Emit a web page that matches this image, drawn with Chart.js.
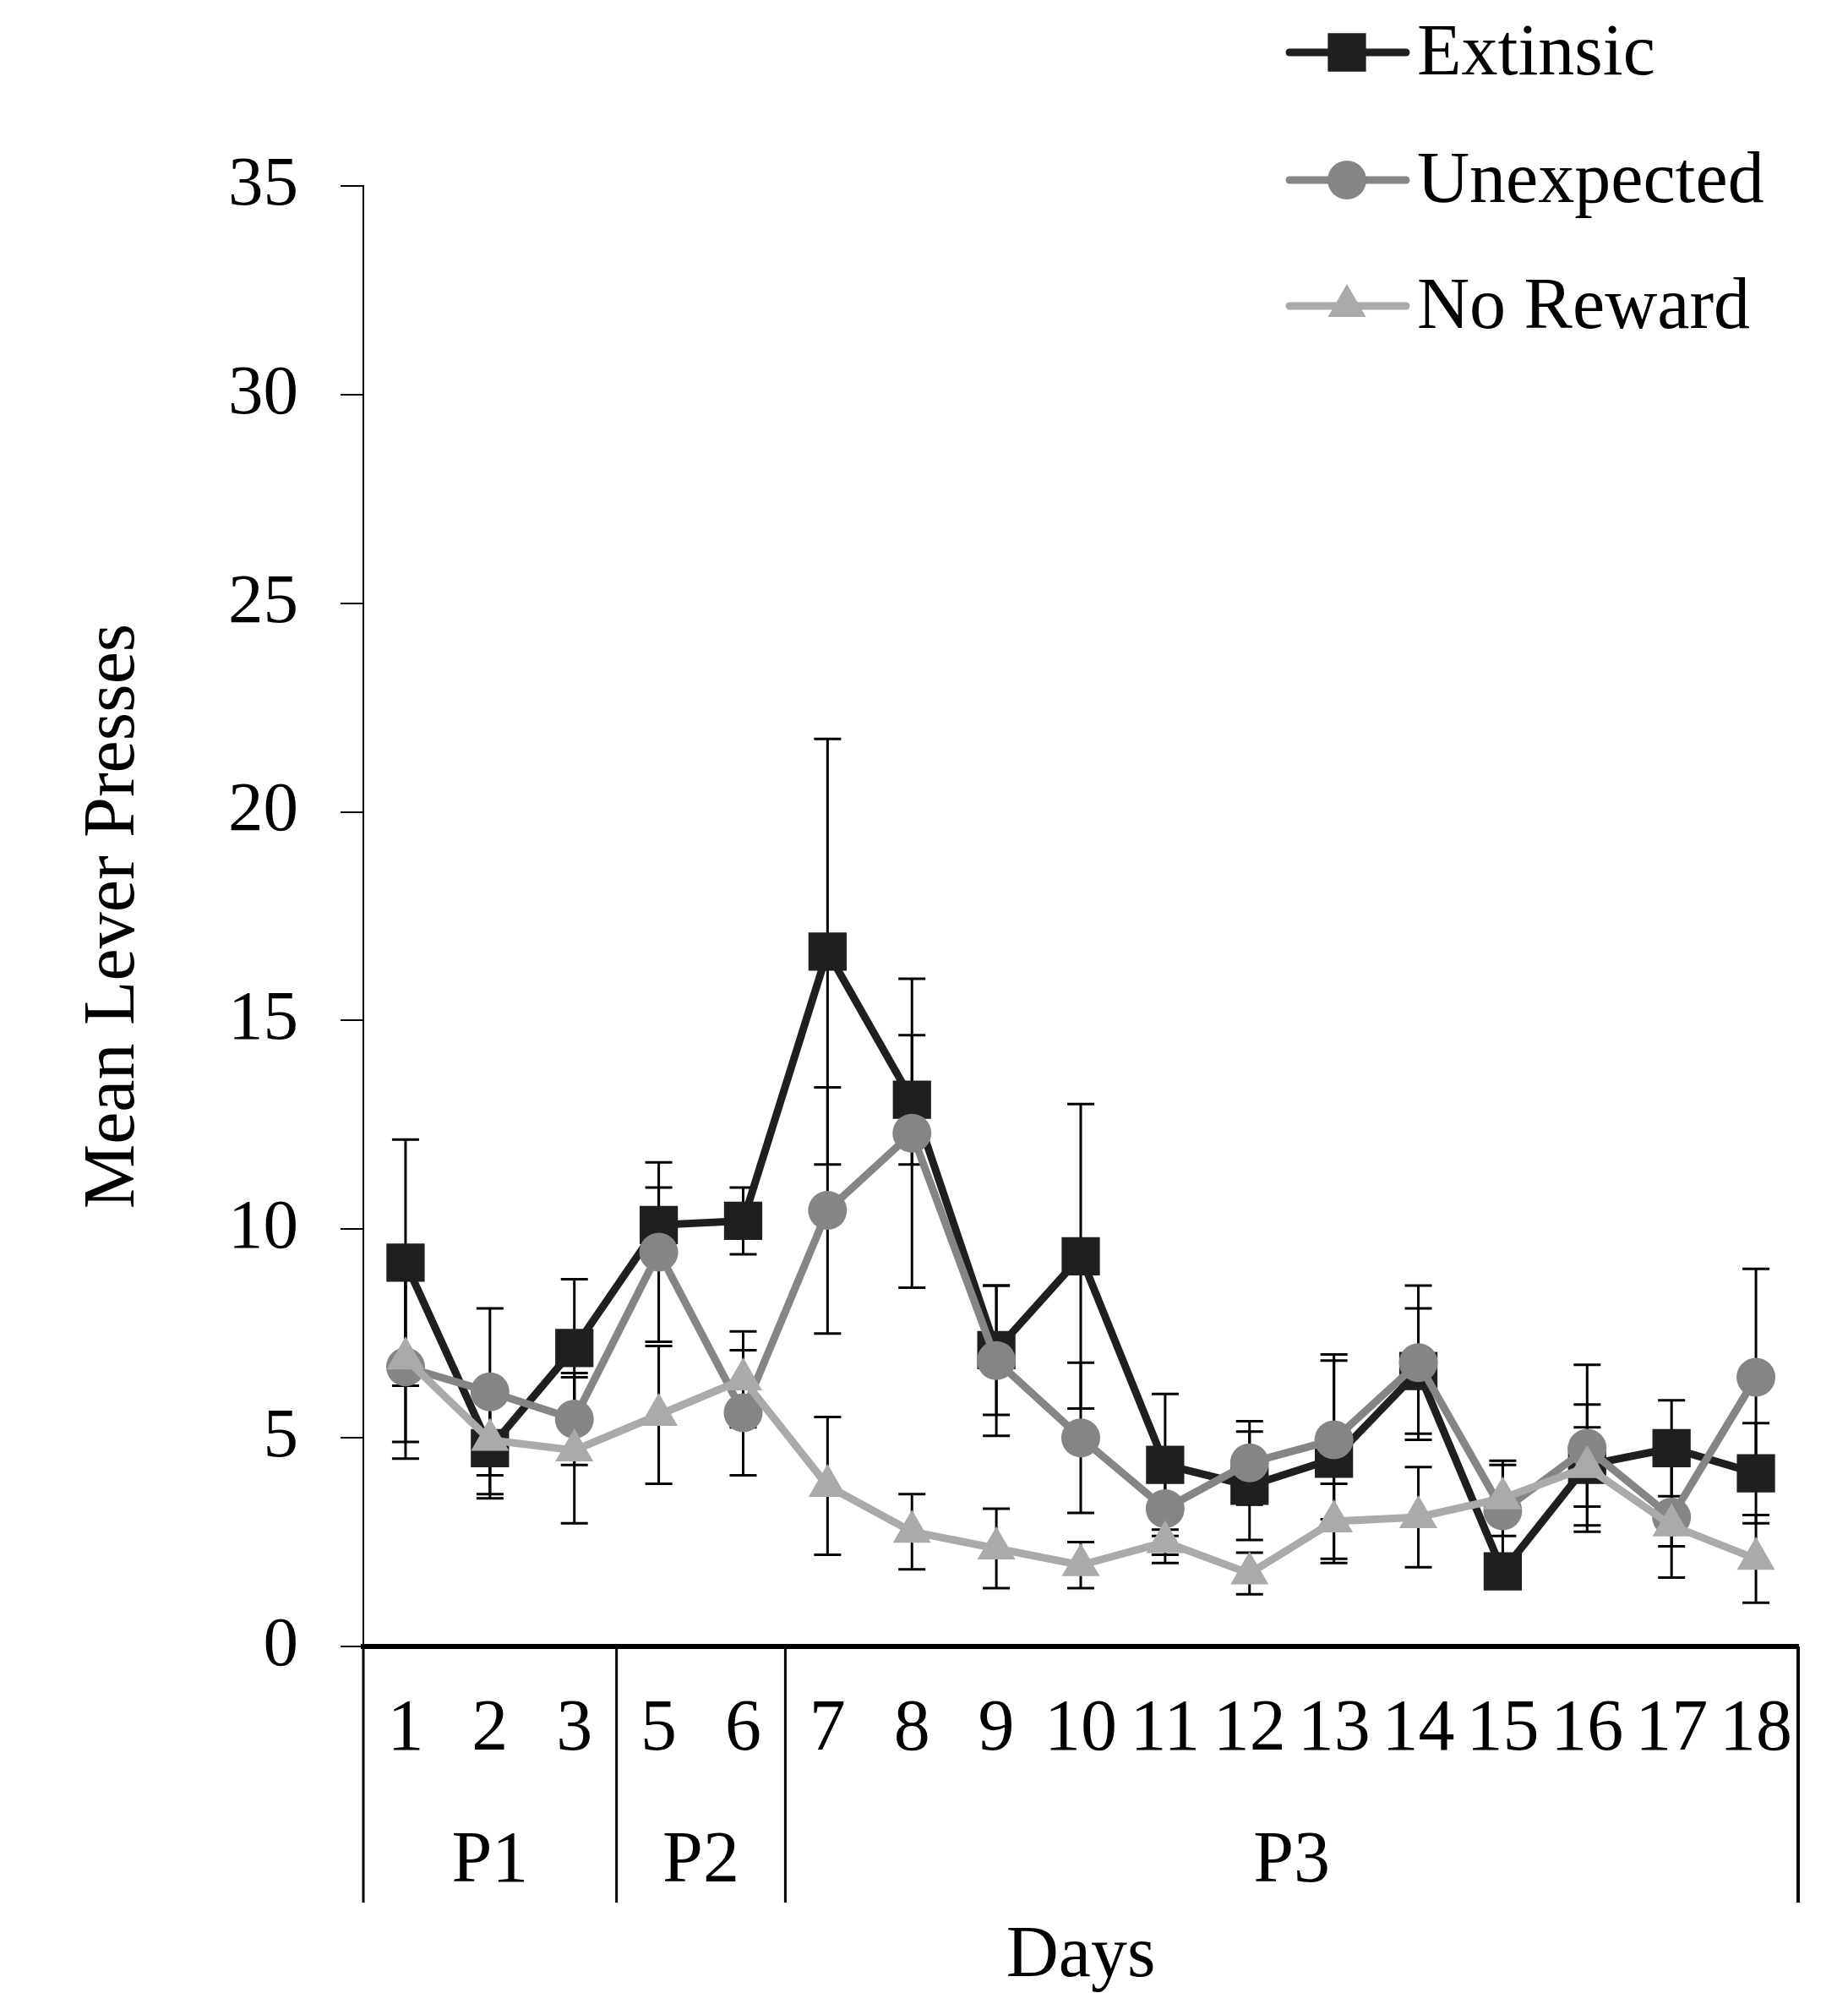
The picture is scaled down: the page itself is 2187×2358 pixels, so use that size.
<!DOCTYPE html>
<html>
<head>
<meta charset="utf-8">
<script src="https://cdn.jsdelivr.net/npm/chart.js@4.4.1/dist/chart.umd.min.js"></script>
<style>
    html, body { margin: 0; padding: 0; background: #fff; }
    #wrap { width: 2187px; height: 2358px; }
</style>
</head>
<body>
<div id="wrap"><canvas id="leverChart" width="2187" height="2358"></canvas></div>
<script>
// Ngày huấn luyện (trục X) và nhóm giai đoạn
const days = ['1', '2', '3', '5', '6', '7', '8', '9', '10', '11', '12', '13', '14', '15', '16', '17', '18'];
const phaseNames = ['P1', 'P2', 'P3'];
const phaseSizes = [3, 2, 12];

// Giá trị trung bình và sai số chuẩn
const extrinsic = [9.2, 4.75, 7.15, 10.1, 10.2, 16.65, 13.1, 7.1, 9.35, 4.35, 3.85, 4.5, 6.6, 1.8, 4.35, 4.75, 4.15];
const extrinsicErr = [2.95, 1.1, 1.65, 0.9, 0.8, 5.1, 1.55, 1.55, 3.65, 1.7, 1.3, 2.5, 1.5, 0.35, 1.45, 1.15, 1.2];
const unexpected = [6.7, 6.1, 5.45, 9.45, 5.6, 10.45, 12.3, 6.85, 5.0, 3.3, 4.4, 4.95, 6.8, 3.25, 4.75, 3.1, 6.45];
const unexpectedErr = [2.2, 2.0, 1.1, 2.15, 1.5, 2.95, 3.7, 1.8, 1.8, 1.3, 1.0, 1.9, 1.85, 1.1, 2.0, 1.45, 2.6];
const noReward = [6.9, 4.95, 4.7, 5.55, 6.4, 3.85, 2.75, 2.35, 1.95, 2.5, 1.75, 3.0, 3.1, 3.55, 4.3, 2.9, 2.1];
const noRewardErr = [2.0, 1.4, 1.75, 1.65, 1.15, 1.65, 0.9, 0.95, 0.55, 0.3, 0.5, 0.9, 1.2, 0.9, 0.95, 0.5, 1.05];

// Thang trục Y
const yMin = 0, yMax = 35, yStep = 5;

const FONT = 'Liberation Serif';

function drawMarker(ctx, style, r, x, y, color) {
    ctx.fillStyle = color;
    ctx.beginPath();
    if (style === 'rect') {
        const s = Math.SQRT1_2 * r;
        ctx.rect(x - s, y - s, 2 * s, 2 * s);
    } else if (style === 'triangle') {
        ctx.moveTo(x, y - r);
        ctx.lineTo(x + r * Math.sin(2 * Math.PI / 3), y - r * Math.cos(2 * Math.PI / 3));
        ctx.lineTo(x + r * Math.sin(4 * Math.PI / 3), y - r * Math.cos(4 * Math.PI / 3));
        ctx.closePath();
    } else {
        ctx.arc(x, y, r, 0, Math.PI * 2);
    }
    ctx.fill();
}

// Vẽ thanh sai số dưới các điểm
const errorBars = {
    id: 'errorBars',
    beforeDatasetsDraw(chart) {
        const { ctx, scales: { x, y } } = chart;
        ctx.save();
        ctx.strokeStyle = '#000';
        ctx.lineWidth = 3;
        chart.data.datasets.forEach(ds => {
            ds.data.forEach((v, i) => {
                const e = ds.errors[i];
                const px = x.getPixelForValue(i);
                const top = y.getPixelForValue(v + e);
                const bot = y.getPixelForValue(v - e);
                ctx.beginPath();
                ctx.moveTo(px, top); ctx.lineTo(px, bot);
                ctx.moveTo(px - 16, top); ctx.lineTo(px + 16, top);
                ctx.moveTo(px - 16, bot); ctx.lineTo(px + 16, bot);
                ctx.stroke();
            });
        });
        ctx.restore();
    }
};

// Khung nhóm P1/P2/P3 dưới trục X và chú thích
const phaseBoxes = {
    id: 'phaseBoxes',
    afterDraw(chart) {
        const { ctx, chartArea, scales: { x } } = chart;
        const bottom = chartArea.bottom + 303;
        ctx.save();
        ctx.strokeStyle = '#000';
        ctx.lineWidth = 3;
        ctx.fillStyle = '#000';
        ctx.font = '86px "' + FONT + '"';
        ctx.textAlign = 'center';
        ctx.textBaseline = 'middle';
        let start = 0;
        let left = chartArea.left;
        phaseSizes.forEach((n, g) => {
            const end = start + n - 1;
            const right = end === days.length - 1 ? chartArea.right
                : (x.getPixelForValue(end) + x.getPixelForValue(end + 1)) / 2;
            ctx.beginPath();
            ctx.moveTo(left, chartArea.bottom); ctx.lineTo(left, bottom);
            ctx.stroke();
            ctx.fillText(phaseNames[g], (left + right) / 2, chartArea.bottom + 255);
            left = right;
            start += n;
        });
        ctx.lineWidth = 4;
        ctx.beginPath();
        ctx.moveTo(left, chartArea.bottom); ctx.lineTo(left, bottom);
        ctx.stroke();

        // chú thích
        ctx.textAlign = 'left';
        ctx.textBaseline = 'alphabetic';
        const rows = [62, 213, 362];
        chart.data.datasets.slice().sort((a, b) => a.legendIndex - b.legendIndex).forEach((ds, k) => {
            const yy = rows[k];
            ctx.strokeStyle = ds.borderColor;
            ctx.lineWidth = 9;
            ctx.lineCap = 'round';
            ctx.beginPath();
            ctx.moveTo(1526, yy); ctx.lineTo(1664, yy);
            ctx.stroke();
            drawMarker(ctx, ds.pointStyle, ds.pointRadius, 1594, yy, ds.pointBackgroundColor);
            ctx.fillStyle = '#000';
            ctx.fillText(ds.label, 1677, yy + 26);
        });
        ctx.restore();
    }
};

const ctx = document.getElementById('leverChart').getContext('2d');
new Chart(ctx, {
    type: 'line',
    data: {
        labels: days,
        datasets: [
            {
                label: 'Extinsic', data: extrinsic, errors: extrinsicErr, legendIndex: 0, order: 3,
                borderColor: '#1f1f1f', pointBackgroundColor: '#1f1f1f', pointBorderWidth: 0,
                pointStyle: 'rect', pointRadius: 32, borderWidth: 9
            },
            {
                label: 'Unexpected', data: unexpected, errors: unexpectedErr, legendIndex: 1, order: 2,
                borderColor: '#858585', pointBackgroundColor: '#858585', pointBorderWidth: 0,
                pointStyle: 'circle', pointRadius: 23, borderWidth: 9
            },
            {
                label: 'No Reward', data: noReward, errors: noRewardErr, legendIndex: 2, order: 1,
                borderColor: '#aaaaaa', pointBackgroundColor: '#aaaaaa', pointBorderWidth: 0,
                pointStyle: 'triangle', pointRadius: 26, borderWidth: 9
            }
        ]
    },
    options: {
        responsive: false,
        animation: false,
        devicePixelRatio: 1,
        layout: { padding: { top: 220, right: 59, left: 0, bottom: 0 } },
        plugins: {
            legend: { display: false },
            tooltip: { enabled: false }
        },
        scales: {
            x: {
                offset: true,
                grid: { display: false, drawTicks: false },
                border: { display: true, color: '#000', width: 6 },
                ticks: {
                    color: '#000', font: { family: FONT, size: 86, lineHeight: 1.2 },
                    padding: 48, maxRotation: 0, autoSkip: false
                },
                title: {
                    display: true, text: 'Days', color: '#000',
                    font: { family: FONT, size: 86, lineHeight: 1 },
                    padding: { top: 0, bottom: 0 }
                },
                afterFit(scale) { scale.height = 410; }
            },
            y: {
                min: yMin, max: yMax,
                grid: { drawOnChartArea: false, drawTicks: true, tickLength: 27, color: '#000', lineWidth: 2 },
                border: { display: true, color: '#000', width: 2 },
                ticks: {
                    stepSize: yStep, color: '#000', padding: 50,
                    font: { family: FONT, size: 83 }
                },
                title: {
                    display: true, text: 'Mean Lever Presses', color: '#000',
                    font: { family: FONT, size: 86, lineHeight: 1 },
                    padding: { top: 92, bottom: 0 }
                },
                afterFit(scale) { scale.width = 430; }
            }
        }
    },
    plugins: [errorBars, phaseBoxes]
});
</script>
</body>
</html>
